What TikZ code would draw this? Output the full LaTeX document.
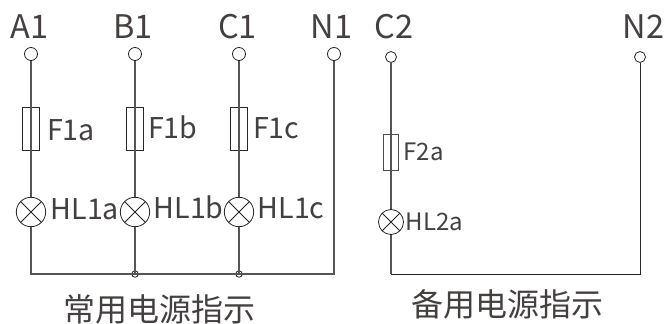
\documentclass[tikz,border=0pt]{standalone}
\usepackage{fontspec}
\setmainfont{Noto Sans CJK SC}
\definecolor{txt}{HTML}{444040}
\definecolor{wire}{HTML}{555555}
\tikzset{
 x=1pt,y=-1pt,
 lbl/.style={anchor=base west,inner sep=0pt,text=txt},
 big/.style={lbl,font=\fontsize{32.5}{32.5}\selectfont},
 mid/.style={lbl,font=\fontsize{28.6}{28.6}\selectfont},
 small/.style={lbl,font=\fontsize{24}{24}\selectfont},
 captext/.style={lbl,font=\fontsize{32}{32}\selectfont},
 wireline/.style={draw=wire,line width=1.1pt},
 termA/.style={circle,draw=black!85,fill=white,line width=.8pt,minimum size=13pt,inner sep=0pt},
 termB/.style={circle,draw=black!85,fill=white,line width=.8pt,minimum size=11pt,inner sep=0pt},
 fuseA/.style={rectangle,draw=black!85,line width=.8pt,minimum width=17pt,minimum height=43pt,inner sep=0pt},
 fuseB/.style={rectangle,draw=black!70,line width=.8pt,minimum width=15pt,minimum height=36pt,inner sep=0pt},
 dot/.style={circle,draw=black!85,line width=.8pt,minimum size=6.5pt,inner sep=0pt},
 pics/lamp/.style={code={
  \draw[black!85,line width=.8pt] (0,0) circle[radius=#1];
  \draw[black!85,line width=.8pt] (-.7071*#1,-.7071*#1) -- (.7071*#1,.7071*#1) (-.7071*#1,.7071*#1) -- (.7071*#1,-.7071*#1);
 }}
}
\begin{document}
\begin{tikzpicture}
\useasboundingbox[fill=white] (0,0) rectangle (665,324);
% terminals
\node[termA] (ta) at (31,54) {};
\node[termA] (tb) at (135,54) {};
\node[termA] (tc) at (239,54) {};
\node[termA] (tn) at (334,54) {};
\node[termB] (tc2) at (391,57) {};
\node[termB] (tn2) at (640,57) {};
% fuses
\node[fuseA] (fa) at (31,129) {};
\node[fuseA] (fb) at (135,129) {};
\node[fuseA] (fc) at (239,129) {};
\node[fuseB] (f2) at (391,152) {};
% lamp anchors
\node[circle,minimum size=29.4pt,inner sep=0pt] (la) at (31,212) {};
\node[circle,minimum size=29.4pt,inner sep=0pt] (lb) at (135,212) {};
\node[circle,minimum size=29.4pt,inner sep=0pt] (lc) at (239,212) {};
\node[circle,minimum size=25pt,inner sep=0pt] (l2) at (391,222) {};
% bus
\coordinate (ba) at (31,274);
\node[dot] (jb) at (135,274) {};
\node[dot] (jc) at (239,274) {};
\coordinate (bn) at (334,274);
\coordinate (b2) at (391,274);
\coordinate (bn2) at (640,274);
% wires
\draw[wireline] (ta) -- (la);
\draw[wireline] (la) -- (ba) -- (jb.center) -- (jc.center) -- (bn) -- (tn);
\draw[wireline] (tb) -- (lb);
\draw[wireline] (lb) -- (jb.center);
\draw[wireline] (tc) -- (lc);
\draw[wireline] (lc) -- (jc.center);
\draw[wireline] (tc2) -- (l2);
\draw[wireline] (l2) -- (b2);
\draw[draw=black!85,line width=1pt] (b2) -- (bn2) -- (tn2);
\pic at (la) {lamp=14.7};
\pic at (lb) {lamp=14.7};
\pic at (lc) {lamp=14.7};
\pic at (l2) {lamp=12.5};
% labels
\node[big] (a1) at (10.5,38) {A1};
\node[big] (b1) at (113,38) {B1};
\node[big] (c1) at (218,38) {C1};
\node[big] (n1) at (310.5,38) {N1};
\node[big] (c2) at (374.5,38) {C2};
\node[big] (n2) at (622.5,38) {N2};
\node[mid] (ffa) at (47,140) {F1a};
\node[mid] (ffb) at (148,138) {F1b};
\node[mid] (ffc) at (253,138) {F1c};
\node[small] (ff2) at (403.5,160) {F2a};
\node[mid] (ha) at (50.5,219) {HL1a};
\node[mid] (hb) at (153.5,218) {HL1b};
\node[mid] (hc) at (257.5,218) {HL1c};
\node[small] (h2) at (405.5,230) {HL2a};
\node[captext] (c3) at (63,321) {常用电源指示};
\node[captext] (c4) at (411,316) {备用电源指示};
\end{tikzpicture}
\end{document}
